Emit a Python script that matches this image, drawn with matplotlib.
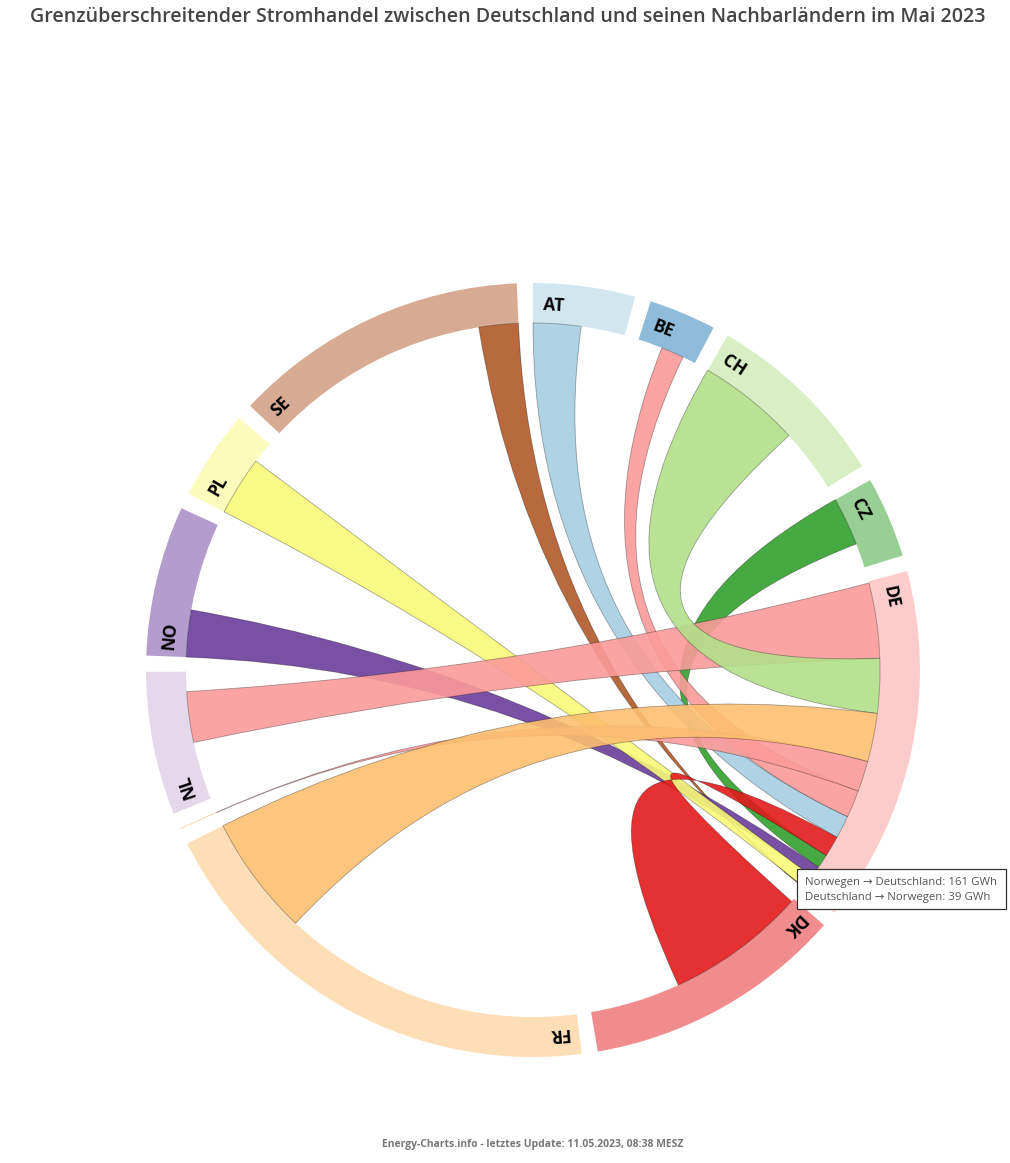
import matplotlib
matplotlib.use('Agg')
import matplotlib.pyplot as plt, numpy as np
from matplotlib.patches import Wedge, PathPatch, Rectangle
from matplotlib.path import Path

# Countries in ring order, clockwise from the top
countries = ['AT', 'BE', 'CH', 'CZ', 'DE', 'DK', 'FR', 'LU', 'NL', 'NO', 'PL', 'SE']
colors = ['#a6cee3', '#1f78b4', '#b2df8a', '#33a02c', '#fb9a99', '#e31a1c',
	'#fdbf6f', '#ff7f00', '#cab2d6', '#6a3d9a', '#f9f978', '#b15928']

# Ring size of each country, GWh
group_total = [314, 207, 574, 250, 1100, 802, 1447, 2, 441, 463, 277, 914]
# Trade with Germany, GWh
to_de = {'AT': 164, 'BE': 78, 'CH': 355, 'CZ': 166, 'DK': 480, 'FR': 414,
	'LU': 1, 'NL': 174, 'NO': 161, 'PL': 203, 'SE': 135}
from_de = {'NL': 258, 'CH': 187, 'FR': 166, 'LU': 105, 'BE': 94, 'AT': 78,
	'DK': 72, 'CZ': 47, 'NO': 39, 'PL': 45, 'SE': 3}
# Flows that sit before the German one on the partner's ring segment, GWh
flow_before = {'AT': 0, 'BE': 84, 'CH': 0, 'CZ': 0, 'DK': 12, 'FR': 1033,
	'LU': 0, 'NL': 199, 'NO': 0, 'PL': 0, 'SE': 779}
de_before = 6
# Painting order of the ribbons, last one on top
draw_order = ['SE', 'NO', 'PL', 'CZ', 'DK', 'AT', 'BE', 'LU', 'NL', 'CH', 'FR']

title = 'Grenzüberschreitender Stromhandel zwischen Deutschland und seinen Nachbarländern im Mai 2023'
footer = 'Energy-Charts.info - letztes Update: 11.05.2023, 08:38 MESZ'
tooltip = 'Norwegen → Deutschland: %d GWh\nDeutschland → Norwegen: %d GWh' % (to_de['NO'], from_de['NO'])

R_OUT = 387
R_IN = 347
R_LABEL = 365
LABEL_SHIFT = 3.2
GAP = 2.4
CX, CY = 533, 670
W, H = 1010, 1163

plt.rcParams['font.family'] = ['Open Sans', 'DejaVu Sans']


def arc_points(a0, a1, r, n=40):
	a = np.radians(np.linspace(a0, a1, n))
	return np.column_stack((r * np.sin(a), r * np.cos(a)))


def ribbon(a0, a1, b0, b1):
	''' d3 style ribbon: two arcs on the inner circle joined by quadratic curves through the centre '''
	verts = [tuple(p) for p in arc_points(a0, a1, R_IN)]
	codes = [Path.MOVETO] + [Path.LINETO] * (len(verts) - 1)
	arc_b = arc_points(b0, b1, R_IN)
	verts += [(0, 0), tuple(arc_b[0])]
	codes += [Path.CURVE3, Path.CURVE3]
	verts += [tuple(p) for p in arc_b[1:]]
	codes += [Path.LINETO] * (len(arc_b) - 1)
	verts += [(0, 0), verts[0]]
	codes += [Path.CURVE3, Path.CURVE3]
	return Path(verts, codes)


fig = plt.figure(figsize=(W / 100, H / 100), dpi=100)
ax = fig.add_axes([0, 0, 1, 1])
ax.set_xlim(-CX, W - CX)
ax.set_ylim(CY - H, CY)
ax.set_aspect('equal')
ax.axis('off')

deg_per_gwh = (360 - GAP * len(countries)) / sum(group_total)

# Ring segments and labels
start = {}
angle = 0
for name, total, col in zip(countries, group_total, colors):
	end = angle + total * deg_per_gwh
	start[name] = angle
	ax.add_patch(Wedge((0, 0), R_OUT, 90 - end, 90 - angle, width=R_OUT - R_IN,
		facecolor=col, alpha=0.5, edgecolor='none'))
	if name != 'LU':
		mid = np.radians(angle + LABEL_SHIFT)
		ax.text(R_LABEL * np.sin(mid), R_LABEL * np.cos(mid), name, rotation=-(angle + LABEL_SHIFT),
			rotation_mode='anchor', ha='center', va='center', fontsize=12.5,
			fontweight='bold', color='black', zorder=5)
	angle = end + GAP

# Ribbons, the German end is sorted by size
de_pos = start['DE'] + de_before * deg_per_gwh
de_ends = {}
for name in from_de:
	de_ends[name] = (de_pos, de_pos + from_de[name] * deg_per_gwh)
	de_pos = de_ends[name][1]

col_of = dict(zip(countries, colors))
for i, name in enumerate(draw_order):
	a0 = start[name] + flow_before[name] * deg_per_gwh
	a1 = a0 + to_de[name] * deg_per_gwh
	b0, b1 = de_ends[name]
	col = col_of[name] if to_de[name] > from_de[name] else col_of['DE']
	ax.add_patch(PathPatch(ribbon(a0, a1, b0, b1), facecolor=col, alpha=0.9,
		edgecolor='none', zorder=2 + i * 0.01))
	ax.add_patch(PathPatch(ribbon(a0, a1, b0, b1), facecolor='none',
		edgecolor=(0, 0, 0, 0.33), linewidth=0.6, zorder=2 + i * 0.01))

# Tooltip
ax.add_patch(Rectangle((797 - CX, CY - 909), 209, 40, facecolor='white',
	edgecolor='#333333', linewidth=0.9, zorder=6))
ax.text(805 - CX, CY - 890, tooltip, ha='left', va='center', fontsize=8.2,
	color='#555555', linespacing=1.42, zorder=7)

fig.text(508 / W, 1 - 17 / H, title, ha='center', va='center', fontsize=14.1,
	fontweight=600, color='#444444')
fig.text(533 / W, 1 - 1144 / H, footer, ha='center', va='center', fontsize=7.45,
	fontweight='bold', color='#777777')

fig.savefig('out.png', dpi=100)
